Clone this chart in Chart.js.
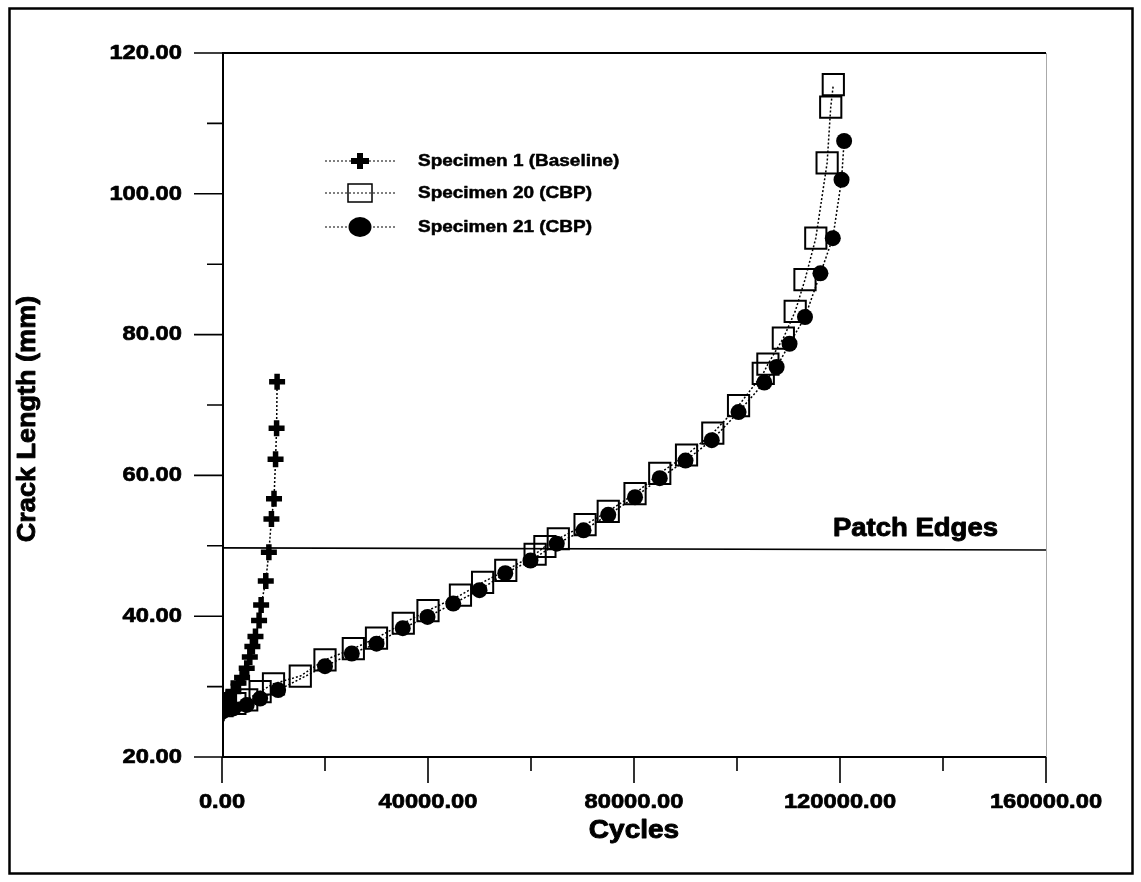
<!DOCTYPE html>
<html><head><meta charset="utf-8">
<script src="https://cdn.jsdelivr.net/npm/chart.js@4/dist/chart.umd.min.js"></script>
<style>html,body{margin:0;padding:0;background:#fff}canvas{display:block}</style>
</head><body>
<canvas id="c" width="1141" height="882" style="width:1141px;height:882px"></canvas>
<script>
// ---- data ----
const spec1Cycles = [0, 300, 1200, 2200, 3200, 3900, 4800, 5400, 5900, 6500, 7200, 7600, 8500, 9100, 9600, 10100, 10400, 10600, 10700];
const spec1Crack  = [26.2, 27.4, 28.3, 29.3, 30.5, 31.3, 32.6, 34.2, 35.7, 37.1, 39.4, 41.6, 45.0, 49.1, 53.8, 56.7, 62.3, 66.7, 73.3];

const spec20Cycles = [0, 2500, 4800, 7400, 10000, 15200, 20000, 25500, 30000, 35200, 40000, 46300, 50600, 55100, 60800, 62700, 65300, 70500, 75000, 80200, 85000, 90200, 95300, 100300, 105100, 106000, 109000, 111300, 113200, 115300, 117500, 118200, 118700];
const spec20Crack  = [27.3, 27.6, 28.1, 29.3, 30.4, 31.5, 33.8, 35.4, 36.9, 39.0, 40.8, 43.0, 44.8, 46.5, 48.8, 49.9, 51.0, 53.0, 54.9, 57.4, 60.3, 62.9, 66.0, 69.9, 74.5, 75.8, 79.5, 83.3, 87.8, 93.7, 104.4, 112.3, 115.5];

const spec21Cycles = [0, 2200, 4800, 7400, 10900, 20000, 25200, 30000, 35100, 39900, 44900, 50000, 55000, 59900, 65000, 70200, 75000, 80200, 85000, 90000, 95100, 100300, 105300, 107700, 110200, 113200, 116200, 118600, 120300, 120800];
const spec21Crack  = [26.4, 26.9, 27.4, 28.3, 29.5, 32.9, 34.7, 36.1, 38.3, 39.9, 41.8, 43.7, 46.1, 47.9, 50.3, 52.2, 54.4, 56.9, 59.6, 62.1, 65.0, 69.0, 73.2, 75.4, 78.7, 82.5, 88.7, 93.7, 102.0, 107.5];

const patchCycles = [0, 160000];
const patchCrack  = [49.7, 49.4];

const seriesNames = ["Specimen 1 (Baseline)", "Specimen 20 (CBP)", "Specimen 21 (CBP)"];
const xMajorTicks = [0, 40000, 80000, 120000, 160000];
const xMajorLabels = ["0.00", "40000.00", "80000.00", "120000.00", "160000.00"];
const xMinorTicks = [20000, 60000, 100000, 140000];
const yMajorTicks = [20, 40, 60, 80, 100, 120];
const yMajorLabels = ["20.00", "40.00", "60.00", "80.00", "100.00", "120.00"];
const yMinorTicks = [30, 50, 70, 90, 110];
const xTitle = "Cycles";
const yTitle = "Crack Length (mm)";
const patchLabel = "Patch Edges";

const pts = (xs, ys) => xs.map((x, i) => ({x: x, y: ys[i]}));
const FONT = '"Liberation Sans", Arial, Helvetica, sans-serif';

function stxt(ctx, s, x, y, size, align, sx, sw) {
  ctx.save();
  ctx.translate(x, y);
  ctx.scale(sx, 1);
  ctx.font = 'bold ' + size + 'px ' + FONT;
  ctx.textAlign = align;
  ctx.textBaseline = 'middle';
  ctx.fillStyle = '#000';
  ctx.fillText(s, 0, 0);
  ctx.strokeStyle = '#000';
  ctx.lineWidth = sw;
  ctx.lineJoin = 'round';
  ctx.strokeText(s, 0, 0);
  ctx.restore();
}

const decor = {
  id: 'decor',
  beforeDatasetsDraw(chart) {
    const ctx = chart.ctx, a = chart.chartArea;
    const xs = chart.scales.x, ys = chart.scales.y;
    ctx.save();
    ctx.strokeStyle = '#000';
    ctx.lineWidth = 2.5;
    ctx.strokeRect(9.5, 8.5, 1123, 865);
    ctx.lineWidth = 2;
    ctx.beginPath();
    ctx.moveTo(a.left + 1, a.top); ctx.lineTo(a.left + 1, a.bottom + 1);
    ctx.moveTo(a.left, a.bottom); ctx.lineTo(a.right, a.bottom);
    ctx.moveTo(a.left, a.top); ctx.lineTo(a.right, a.top);
    ctx.stroke();
    ctx.lineWidth = 1;
    ctx.strokeStyle = '#aaa';
    ctx.beginPath(); ctx.moveTo(a.right + 0.5, a.top); ctx.lineTo(a.right + 0.5, a.bottom); ctx.stroke();
    ctx.strokeStyle = '#000';
    ctx.lineWidth = 1.6;
    ctx.beginPath();
    yMajorTicks.forEach(v => { const p = ys.getPixelForValue(v); ctx.moveTo(a.left - 28, p); ctx.lineTo(a.left, p); });
    yMinorTicks.forEach(v => { const p = ys.getPixelForValue(v); ctx.moveTo(a.left - 15, p); ctx.lineTo(a.left, p); });
    xMajorTicks.forEach(v => { const p = xs.getPixelForValue(v); ctx.moveTo(p, a.bottom); ctx.lineTo(p, a.bottom + 26); });
    xMinorTicks.forEach(v => { const p = xs.getPixelForValue(v); ctx.moveTo(p, a.bottom); ctx.lineTo(p, a.bottom + 14); });
    ctx.stroke();
    ctx.restore();
  },
  afterDraw(chart) {
    const ctx = chart.ctx, a = chart.chartArea;
    const xs = chart.scales.x, ys = chart.scales.y;
    yMajorTicks.forEach((v, i) => stxt(ctx, yMajorLabels[i], a.left - 40, ys.getPixelForValue(v), 21, 'right', 1.13, 0.7));
    xMajorTicks.forEach((v, i) => stxt(ctx, xMajorLabels[i], xs.getPixelForValue(v), a.bottom + 45, 21, 'center', 1.13, 0.7));
    stxt(ctx, xTitle, (a.left + a.right) / 2, a.bottom + 74, 25, 'center', 1.12, 0.9);
    ctx.save();
    ctx.translate(28, 419);
    ctx.rotate(-Math.PI / 2);
    ctx.scale(1.04, 1);
    ctx.font = 'bold 26px ' + FONT;
    ctx.textAlign = 'center';
    ctx.textBaseline = 'middle';
    ctx.fillStyle = '#000';
    ctx.fillText(yTitle, 0, 0);
    ctx.strokeStyle = '#000'; ctx.lineWidth = 0.9; ctx.lineJoin = 'round';
    ctx.strokeText(yTitle, 0, 0);
    ctx.restore();
    stxt(ctx, patchLabel, a.right - 48, ys.getPixelForValue(50) - 17, 25, 'right', 1.1, 0.9);
    const rows = [161, 193, 227];
    rows.forEach((ry, i) => {
      ctx.save();
      ctx.strokeStyle = '#000';
      ctx.lineWidth = 1.2;
      ctx.setLineDash([2, 2]);
      ctx.beginPath(); ctx.moveTo(325, ry); ctx.lineTo(395, ry); ctx.stroke();
      ctx.setLineDash([]);
      const mx = 360;
      if (i === 0) {
        ctx.lineWidth = 6;
        ctx.beginPath();
        ctx.moveTo(mx - 9, ry); ctx.lineTo(mx + 9, ry);
        ctx.moveTo(mx, ry - 8); ctx.lineTo(mx, ry + 8);
        ctx.stroke();
      } else if (i === 1) {
        ctx.lineWidth = 1.5;
        ctx.strokeRect(mx - 12, ry - 9, 24, 18);
      } else {
        ctx.fillStyle = '#000';
        ctx.beginPath(); ctx.ellipse(mx, ry, 11.5, 10, 0, 0, Math.PI * 2); ctx.fill();
      }
      ctx.restore();
      stxt(ctx, seriesNames[i], 418, ry, 16.5, 'left', 1.15, 0.5);
    });
  }
};

new Chart(document.getElementById('c'), {
  type: 'scatter',
  data: {
    datasets: [
      { label: seriesNames[0], data: pts(spec1Cycles, spec1Crack), showLine: true, order: 0,
        borderColor: '#000', borderWidth: 1.5, borderDash: [2, 2], fill: false, tension: 0,
        pointStyle: 'cross', pointRadius: 8, pointBorderWidth: 5.5, pointBorderColor: '#000', pointBackgroundColor: '#000' },
      { label: seriesNames[2], data: pts(spec21Cycles, spec21Crack), showLine: true, order: 1,
        borderColor: '#000', borderWidth: 1.5, borderDash: [2, 2], fill: false, tension: 0,
        pointStyle: 'circle', pointRadius: 8, pointBorderWidth: 0, pointBackgroundColor: '#000', pointBorderColor: '#000' },
      { label: seriesNames[1], data: pts(spec20Cycles, spec20Crack), showLine: true, order: 2,
        borderColor: '#000', borderWidth: 1.5, borderDash: [2, 2], fill: false, tension: 0,
        pointStyle: 'rect', pointRadius: 15, pointBorderWidth: 2, pointBorderColor: '#000', pointBackgroundColor: 'rgba(0,0,0,0)' },
      { label: patchLabel, data: pts(patchCycles, patchCrack), showLine: true, order: 3,
        borderColor: '#000', borderWidth: 1.6, pointRadius: 0, fill: false }
    ]
  },
  options: {
    responsive: false,
    animation: false,
    devicePixelRatio: 1,
    layout: { padding: { left: 0, right: 95, top: 53, bottom: 0 } },
    plugins: { legend: { display: false }, tooltip: { enabled: false } },
    events: [],
    scales: {
      x: { type: 'linear', min: 0, max: 160000, grid: { display: false }, border: { display: false },
           ticks: { display: false }, afterFit(s) { s.height = 125; } },
      y: { type: 'linear', min: 20, max: 120, grid: { display: false }, border: { display: false },
           ticks: { display: false }, afterFit(s) { s.width = 222; } }
    }
  },
  plugins: [decor]
});
</script>
</body></html>
